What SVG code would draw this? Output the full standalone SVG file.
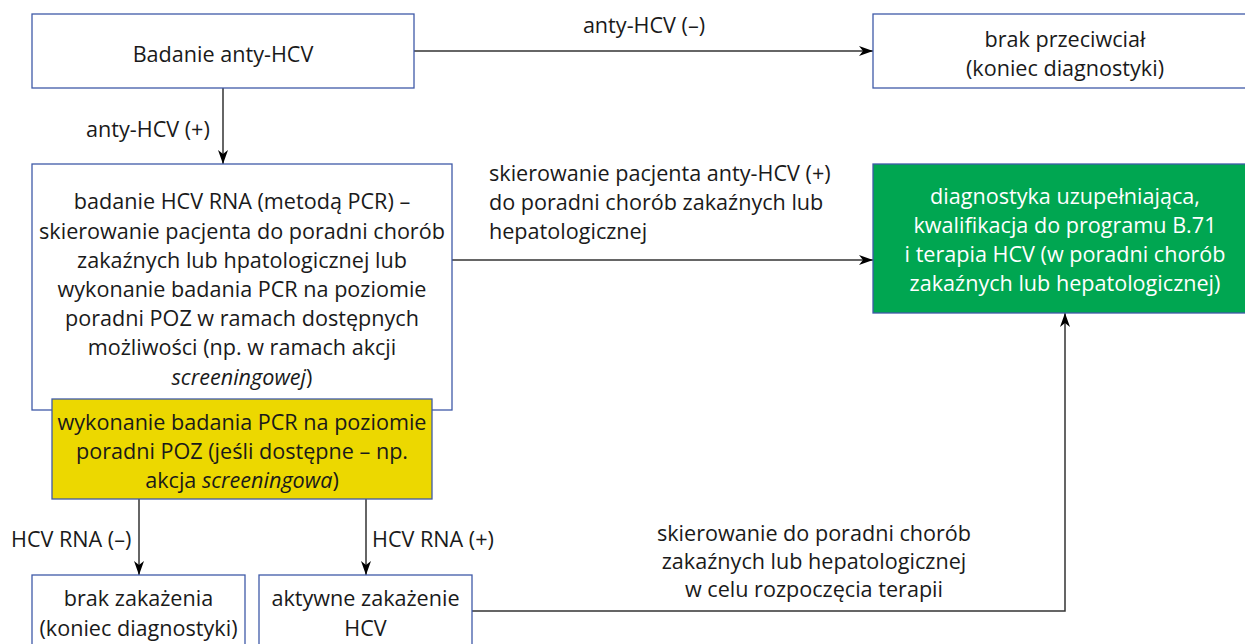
<svg xmlns="http://www.w3.org/2000/svg" width="1245" height="644" viewBox="0 0 1245 644">
<style>
.box{fill:#ffffff;stroke:#3f5aa8;stroke-width:1.3}
.yel{fill:#ecd800;stroke:#3f5aa8;stroke-width:1.3}
.grn{fill:#00a651;stroke:#3f5aa8;stroke-width:1.3}
text{font-family:"Open Sans","Noto Sans","Liberation Sans",sans-serif;font-size:21.6px;fill:#1a1a1a}
.c{text-anchor:middle}
.w{fill:#ffffff}
.i{font-style:italic}
.con{fill:none;stroke:#333333;stroke-width:1.5}
</style>
<defs>
<marker id="ah" viewBox="0 0 14 10" refX="14" refY="5" markerWidth="14" markerHeight="10" markerUnits="userSpaceOnUse" orient="auto">
<path d="M0,0 L14,5 L0,10 L4,5 z" fill="#000000"/>
</marker>
</defs>

<g id="connectors">
<line class="con" x1="414" y1="51" x2="873" y2="51" marker-end="url(#ah)"/>
<line class="con" x1="223" y1="88" x2="223" y2="164" marker-end="url(#ah)"/>
<line class="con" x1="452" y1="260" x2="873" y2="260" marker-end="url(#ah)"/>
<line class="con" x1="139" y1="499" x2="139" y2="575" marker-end="url(#ah)"/>
<line class="con" x1="366" y1="499" x2="366" y2="575" marker-end="url(#ah)"/>
<polyline class="con" points="472,611 1065,611 1065,313" marker-end="url(#ah)"/>
<text x="644" y="33" class="c">anty-HCV (–)</text>
<text x="86" y="137">anty-HCV (+)</text>
<text x="489" y="181">skierowanie pacjenta anty-HCV (+)</text>
<text x="489" y="210">do poradni chorób zakaźnych lub</text>
<text x="489" y="239">hepatologicznej</text>
<text x="11" y="547">HCV RNA (–)</text>
<text x="372" y="547">HCV RNA (+)</text>
<text x="814" y="541" class="c">skierowanie do poradni chorób</text>
<text x="814" y="569" class="c">zakaźnych lub hepatologicznej</text>
<text x="814" y="597" class="c">w celu rozpoczęcia terapii</text>
</g>

<g id="n-badanie">
<rect class="box" x="32" y="14" width="382" height="74"/>
<text x="223" y="62" class="c">Badanie anty-HCV</text>
</g>

<g id="n-brak-przeciwcial">
<rect class="box" x="873" y="14" width="384" height="74"/>
<text x="1065" y="47" class="c">brak przeciwciał</text>
<text x="1065" y="76" class="c">(koniec diagnostyki)</text>
</g>

<g id="n-rna">
<rect class="box" x="32" y="164" width="420" height="246"/>
<text x="242" y="209" class="c">badanie HCV RNA (metodą PCR) –</text>
<text x="242" y="238.5" class="c">skierowanie pacjenta do poradni chorób</text>
<text x="242" y="267.5" class="c">zakaźnych lub hpatologicznej lub</text>
<text x="242" y="296.5" class="c">wykonanie badania PCR na poziomie</text>
<text x="242" y="326" class="c">poradni POZ w ramach dostępnych</text>
<text x="242" y="355" class="c">możliwości (np. w ramach akcji</text>
<text x="242" y="384.5" class="c"><tspan class="i">screeningowej</tspan>)</text>
</g>

<g id="n-poz">
<rect class="yel" x="52" y="399" width="380" height="100"/>
<text x="242" y="429.5" class="c">wykonanie badania PCR na poziomie</text>
<text x="242" y="459" class="c">poradni POZ (jeśli dostępne – np.</text>
<text x="242" y="488" class="c">akcja <tspan class="i">screeningowa</tspan>)</text>
</g>

<g id="n-diagnostyka">
<rect class="grn" x="873" y="164" width="384" height="149"/>
<text x="1065" y="204" class="c w">diagnostyka uzupełniająca,</text>
<text x="1065" y="233" class="c w">kwalifikacja do programu B.71</text>
<text x="1065" y="262" class="c w">i terapia HCV (w poradni chorób</text>
<text x="1065" y="291" class="c w">zakaźnych lub hepatologicznej)</text>
</g>

<g id="n-brak-zakazenia">
<rect class="box" x="32" y="575" width="213" height="90"/>
<text x="138.5" y="606" class="c">brak zakażenia</text>
<text x="138.5" y="636" class="c">(koniec diagnostyki)</text>
</g>

<g id="n-aktywne">
<rect class="box" x="259" y="575" width="213" height="90"/>
<text x="365.5" y="606" class="c">aktywne zakażenie</text>
<text x="365.5" y="636" class="c">HCV</text>
</g>
</svg>
